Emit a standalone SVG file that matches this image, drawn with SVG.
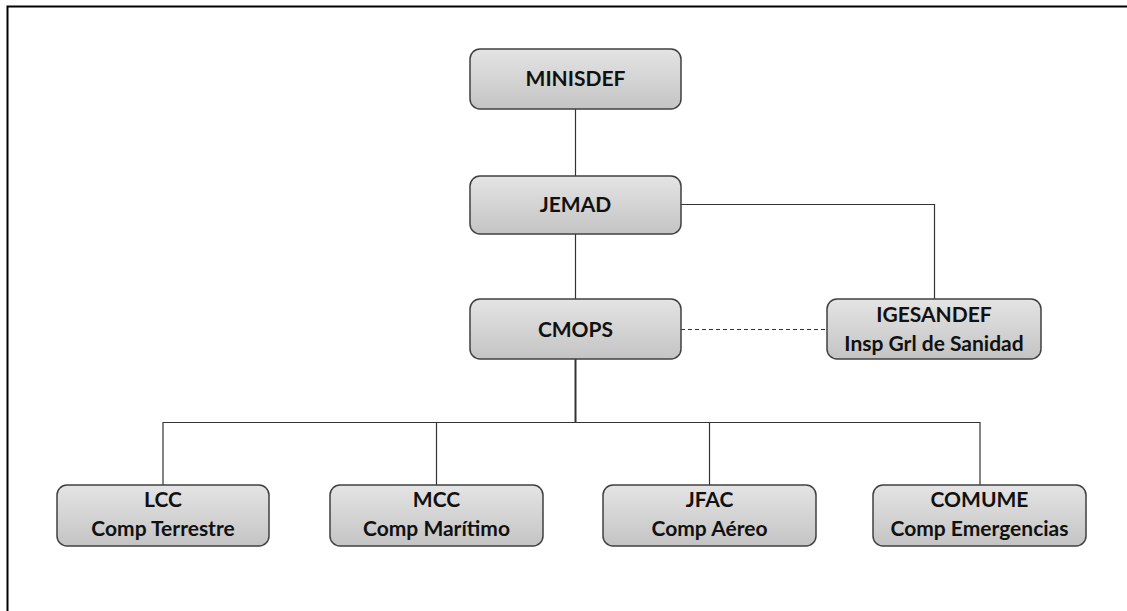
<svg xmlns="http://www.w3.org/2000/svg" width="1127" height="611" viewBox="0 0 1127 611">
<defs>
<linearGradient id="g" x1="0" y1="0" x2="0" y2="1">
<stop offset="0" stop-color="#e4e4e4"/>
<stop offset="1" stop-color="#c4c4c4"/>
</linearGradient>
</defs>
<style>
.box{fill:url(#g);stroke:#404040;stroke-width:1.5}
.t{font-family:Lato,"Open Sans","Liberation Sans",sans-serif;font-weight:bold;font-size:21px;fill:#111;text-anchor:middle}
.c{fill:none;stroke:#333;stroke-width:1.2}
</style>
<rect x="7.5" y="6.5" width="1140" height="620" fill="#fff" stroke="#000" stroke-width="2"/>
<g id="connectors">
<line class="c" x1="575.5" y1="109" x2="575.5" y2="176"/>
<line class="c" x1="575.5" y1="234" x2="575.5" y2="299"/>
<polyline class="c" points="681,204.5 934.5,204.5 934.5,299"/>
<line class="c" x1="681" y1="329.5" x2="827" y2="329.5" stroke-dasharray="4,3"/>
<line class="c" x1="575.5" y1="359" x2="575.5" y2="422" style="stroke-width:2"/>
<polyline class="c" points="163,485 163,422.5 980,422.5 980,485"/>
<line class="c" x1="436.5" y1="422.5" x2="436.5" y2="485"/>
<line class="c" x1="709.5" y1="422.5" x2="709.5" y2="485"/>
</g>
<g id="minisdef"><rect class="box" x="470" y="49" width="211" height="60" rx="10"/><text class="t" x="575.5" y="86">MINISDEF</text></g>
<g id="jemad"><rect class="box" x="470" y="176" width="211" height="58" rx="10"/><text class="t" x="575.5" y="212">JEMAD</text></g>
<g id="cmops"><rect class="box" x="470" y="299" width="211" height="60" rx="10"/><text class="t" x="575.5" y="337">CMOPS</text></g>
<g id="igesandef"><rect class="box" x="827" y="299" width="214" height="60" rx="10"/><text class="t" x="934" y="322">IGESANDEF</text><text class="t" x="934" y="351">Insp Grl de Sanidad</text></g>
<g id="lcc"><rect class="box" x="57" y="485" width="212" height="61" rx="10"/><text class="t" x="163" y="507">LCC</text><text class="t" x="163" y="536">Comp Terrestre</text></g>
<g id="mcc"><rect class="box" x="330" y="485" width="213" height="61" rx="10"/><text class="t" x="436.5" y="507">MCC</text><text class="t" x="436.5" y="536">Comp Marítimo</text></g>
<g id="jfac"><rect class="box" x="603" y="485" width="213" height="61" rx="10"/><text class="t" x="709.5" y="507">JFAC</text><text class="t" x="709.5" y="536">Comp Aéreo</text></g>
<g id="comume"><rect class="box" x="873" y="485" width="213" height="61" rx="10"/><text class="t" x="979.5" y="507">COMUME</text><text class="t" x="979.5" y="536">Comp Emergencias</text></g>
</svg>
